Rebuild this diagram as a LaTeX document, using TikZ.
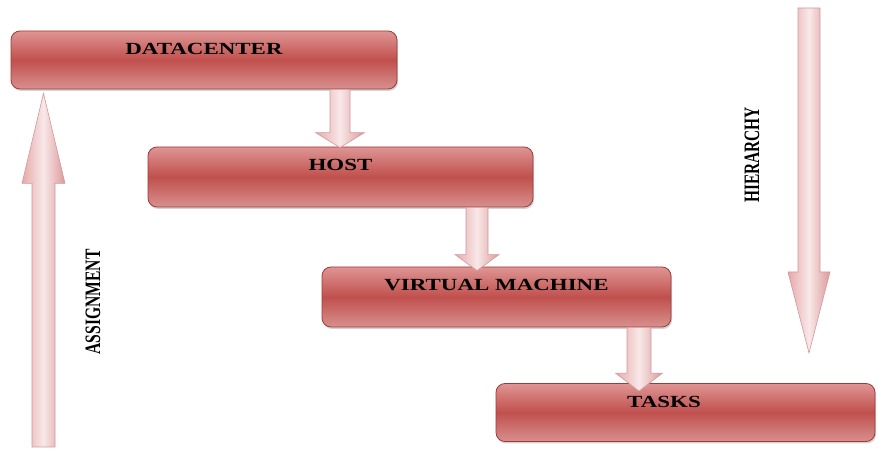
\documentclass[tikz,border=0pt]{standalone}
\usepackage{fontspec}
\setmainfont{Liberation Serif}
\usepackage{tikz}
\usetikzlibrary{calc,shadows}

\definecolor{cajaoscuro}{HTML}{C0504D}
\definecolor{cajaclaro}{HTML}{DE9594}
\definecolor{cajabajo}{HTML}{D8908E}
\definecolor{cajaborde}{HTML}{9E3B39}
\definecolor{flechaclaro}{HTML}{F8E8E8}
\definecolor{flechaizq}{HTML}{E6A9AA}
\definecolor{flechader}{HTML}{DC999A}
\definecolor{flechaborde}{HTML}{D4979A}

\newcommand{\rotulo}[1]{\scalebox{1.35}[1]{#1}}
\newcommand{\bloque}[5]{%
  \path[flecha] let \p1=#1, \p2=#2 in
    (\x1-#3,\y1) -- (\x1+#3,\y1) -- (\x1+#3,\y2+#5) -- (\x1+#4,\y2+#5)
    -- (\x1,\y2) -- (\x1-#4,\y2+#5) -- (\x1-#3,\y2+#5) -- cycle;}

\begin{document}
\begin{tikzpicture}[x=1pt,y=1pt,
  %%Estilos
  caja/.style = {rectangle, rounded corners=9pt, draw=cajaborde, line width=0.8pt,
    top color=cajaclaro, bottom color=cajabajo, middle color=cajaoscuro,
    drop shadow={opacity=0.35, shadow xshift=1pt, shadow yshift=-2pt},
    inner sep=0pt, text height=24pt, text=black,
    font=\fontsize{17}{17}\selectfont\bfseries},
  lado/.style = {rotate=90, inner sep=0pt, text=black,
    font=\fontsize{22}{22}\selectfont\bfseries},
  flecha/.style = {draw=flechaborde, line width=0.6pt, line join=miter,
    left color=flechaizq, right color=flechader, middle color=flechaclaro}
  ]
  \useasboundingbox (0,0) rectangle (878,449);

  %%Nodos
  \node[caja, minimum width=386pt, text depth=34pt] (dc) at (204,389) {\rotulo{DATACENTER}};
  \node[caja, minimum width=385pt, text depth=36pt] (host) at (340.5,272) {\rotulo{HOST}};
  \node[caja, minimum width=349pt, text depth=36pt] (vm) at (496.5,152) {\rotulo{VIRTUAL MACHINE}};
  \node[caja, minimum width=379pt, text depth=34pt] (tasks) at (685.5,36.5) {\rotulo{TASKS}\hspace*{43pt}};

  \node[lado] (asig) at (93,147) {\scalebox{0.71}[1]{ASSIGNMENT}};
  \node[lado] (jer) at (752,294) {\scalebox{0.70}[1]{HIERARCHY}};

  %%Flechas
  \coordinate (p1) at ($(host.north)+(-0.5,-1)$);
  \coordinate (p2) at ($(vm.north)+(-19.5,-4)$);
  \coordinate (p3) at ($(tasks.north)+(-46.5,-8)$);
  \bloque{(p1 |- dc.south)}{(p1)}{10pt}{24.5pt}{15pt}
  \bloque{(p2 |- host.south)}{(p2)}{11pt}{22pt}{16pt}
  \bloque{(p3 |- vm.south)}{(p3)}{12pt}{23.5pt}{18pt}

  \coordinate (asigpie) at (43.5,2);
  \coordinate (asigpunta) at ($(dc.south -| asigpie)+(0,-4)$);
  \bloque{(asigpie)}{(asigpunta)}{11.5pt}{21.5pt}{-90pt}

  \coordinate (jertope) at (809,441);
  \coordinate (jerpunta) at (809,96);
  \bloque{(jertope)}{(jerpunta)}{11pt}{21pt}{81pt}
\end{tikzpicture}
\end{document}
